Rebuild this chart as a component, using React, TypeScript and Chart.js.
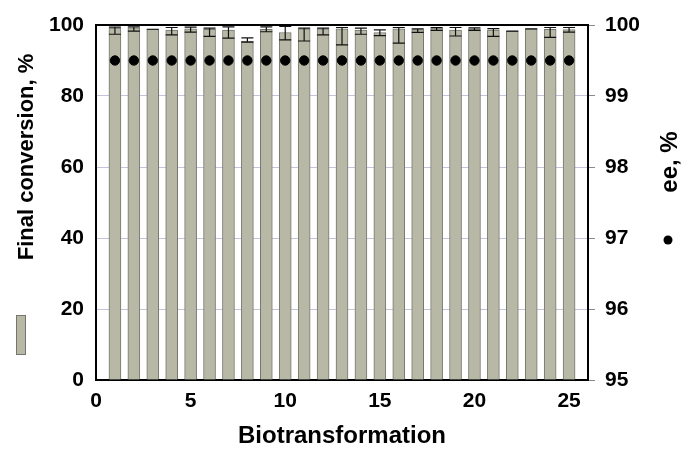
import React, { useEffect, useRef } from "react";
import { Chart, registerables } from "chart.js";

Chart.register(...registerables);

const runs = [1, 2, 3, 4, 5, 6, 7, 8, 9, 10, 11, 12, 13, 14, 15, 16, 17, 18, 19, 20, 21, 22, 23, 24, 25];
const conversion = [99.1, 99.2, 98.8, 98.6, 98.9, 98.8, 98.6, 95.5, 98.8, 97.9, 98.9, 98.9, 98.9, 98.6, 97.9, 98.9, 98.7, 99.1, 98.6, 98.9, 98.6, 98.3, 98.9, 98.8, 98.7];
const errUp = [0.3, 0.3, 0.0, 0.7, 0.5, 0.3, 0.9, 0.9, 0.7, 1.7, 0.2, 0.2, 0.4, 0.5, 0.7, 0.4, 0.2, 0.2, 0.7, 0.3, 0.4, 0.0, 0.0, 0.5, 0.6];
const errDown = [1.7, 0.9, 0.0, 1.4, 0.9, 2.0, 2.3, 0.3, 0.7, 2.1, 3.4, 1.7, 4.5, 1.2, 0.9, 4.0, 0.8, 0.6, 1.7, 0.4, 1.8, 0.0, 0.0, 2.3, 0.7];
const ee = [99.5, 99.5, 99.5, 99.5, 99.5, 99.5, 99.5, 99.5, 99.5, 99.5, 99.5, 99.5, 99.5, 99.5, 99.5, 99.5, 99.5, 99.5, 99.5, 99.5, 99.5, 99.5, 99.5, 99.5, 99.5];

const leftTitle = "Final conversion, %";
const rightTitle = "ee, %";
const xTitle = "Biotransformation";

const FONT = "'Liberation Sans', Arial, sans-serif";
const BAR_FILL = "#b8b8a7";
const BAR_EDGE = "#76766e";

const errorBarPlugin = {
  id: "errorBars",
  afterDatasetDraw(chart: any, args: any) {
    if (args.index !== 0) return;
    const { ctx, chartArea } = chart;
    const xs = chart.scales.x;
    const ys = chart.scales.y;
    ctx.save();
    ctx.beginPath();
    ctx.rect(chartArea.left, chartArea.top, chartArea.right - chartArea.left, chartArea.bottom - chartArea.top);
    ctx.clip();
    ctx.strokeStyle = "#111";
    ctx.lineWidth = 1.2;
    runs.forEach((r, i) => {
      const x = xs.getPixelForValue(r);
      const yT = ys.getPixelForValue(conversion[i] + errUp[i]);
      const yB = ys.getPixelForValue(conversion[i] - errDown[i]);
      ctx.beginPath();
      ctx.moveTo(x, yT);
      ctx.lineTo(x, yB);
      ctx.moveTo(x - 6, yT);
      ctx.lineTo(x + 6, yT);
      ctx.moveTo(x - 6, yB);
      ctx.lineTo(x + 6, yB);
      ctx.stroke();
    });
    ctx.restore();
  },
};

const decorPlugin = {
  id: "decor",
  afterDraw(chart: any) {
    const { ctx, chartArea } = chart;
    ctx.save();
    ctx.strokeStyle = "#000";
    ctx.lineWidth = 2;
    ctx.beginPath();
    ctx.moveTo(chartArea.left - 1, chartArea.top);
    ctx.lineTo(chartArea.right + 1, chartArea.top);
    ctx.stroke();

    ctx.fillStyle = "#000";
    ctx.font = `bold 22px ${FONT}`;
    ctx.textAlign = "center";
    ctx.textBaseline = "middle";
    ctx.save();
    ctx.translate(27, 157);
    ctx.rotate(-Math.PI / 2);
    ctx.fillText(leftTitle, 0, 0);
    ctx.restore();

    ctx.fillStyle = BAR_FILL;
    ctx.fillRect(16, 315, 10, 40);
    ctx.strokeStyle = BAR_EDGE;
    ctx.lineWidth = 1;
    ctx.strokeRect(16.5, 315.5, 9, 39);

    ctx.fillStyle = "#000";
    ctx.font = `bold 24px ${FONT}`;
    ctx.save();
    ctx.translate(670, 162);
    ctx.rotate(-Math.PI / 2);
    ctx.fillText(rightTitle, 0, 0);
    ctx.restore();

    ctx.beginPath();
    ctx.arc(668, 240, 4.5, 0, Math.PI * 2);
    ctx.fill();
    ctx.restore();
  },
};

export default function App() {
  const ref = useRef<HTMLCanvasElement | null>(null);

  useEffect(() => {
    if (!ref.current) return;
    const chart = new Chart(ref.current, {
      type: "bar",
      data: {
        datasets: [
          {
            type: "bar",
            label: "Final conversion, %",
            data: runs.map((r, i) => ({ x: r, y: conversion[i] })),
            backgroundColor: BAR_FILL,
            borderColor: BAR_EDGE,
            borderWidth: 1,
            barThickness: 12,
            yAxisID: "y",
            order: 2,
          } as any,
          {
            type: "scatter",
            label: "ee, %",
            data: runs.map((r, i) => ({ x: r, y: ee[i] })),
            backgroundColor: "#000",
            borderColor: "#000",
            pointRadius: 4.7,
            yAxisID: "y2",
            order: 1,
          } as any,
        ],
      },
      options: {
        animation: false,
        responsive: false,
        layout: { padding: { top: 25, left: 0, right: 0, bottom: 0 } },
        plugins: { legend: { display: false }, tooltip: { enabled: false } },
        scales: {
          x: {
            type: "linear",
            min: 0,
            max: 26,
            offset: false,
            grid: { display: false, drawTicks: false },
            border: { display: true, color: "#000", width: 2 },
            ticks: {
              stepSize: 5,
              includeBounds: false,
              color: "#000",
              padding: 9,
              font: { family: FONT, size: 21, weight: "bold" },
              maxRotation: 0,
            },
            title: {
              display: true,
              text: xTitle,
              color: "#000",
              font: { family: FONT, size: 24, weight: "bold" },
              padding: { top: 0, bottom: 4 },
            },
            afterFit: (s: any) => {
              s.height = 75;
            },
          },
          y: {
            position: "left",
            min: 0,
            max: 100,
            grid: { color: "#c4c4de", lineWidth: 1, drawTicks: false },
            border: { display: true, color: "#000", width: 2 },
            ticks: {
              stepSize: 20,
              color: "#000",
              padding: 12,
              font: { family: FONT, size: 21, weight: "bold" },
            },
            afterFit: (s: any) => {
              s.width = 96;
            },
          },
          y2: {
            position: "right",
            min: 95,
            max: 100,
            grid: { drawOnChartArea: false, drawTicks: true, tickLength: 7, color: "#888" },
            border: { display: true, color: "#000", width: 2 },
            ticks: {
              stepSize: 1,
              color: "#000",
              padding: 10,
              font: { family: FONT, size: 21, weight: "bold" },
            },
            afterFit: (s: any) => {
              s.width = 94;
            },
          },
        },
      } as any,
      plugins: [errorBarPlugin, decorPlugin],
    });
    return () => chart.destroy();
  }, []);

  return (
    <div style={{ position: "fixed", left: 0, top: 0, width: 682, height: 455, background: "#fff" }}>
      <canvas ref={ref} width={682} height={455} style={{ display: "block" }} />
    </div>
  );
}
